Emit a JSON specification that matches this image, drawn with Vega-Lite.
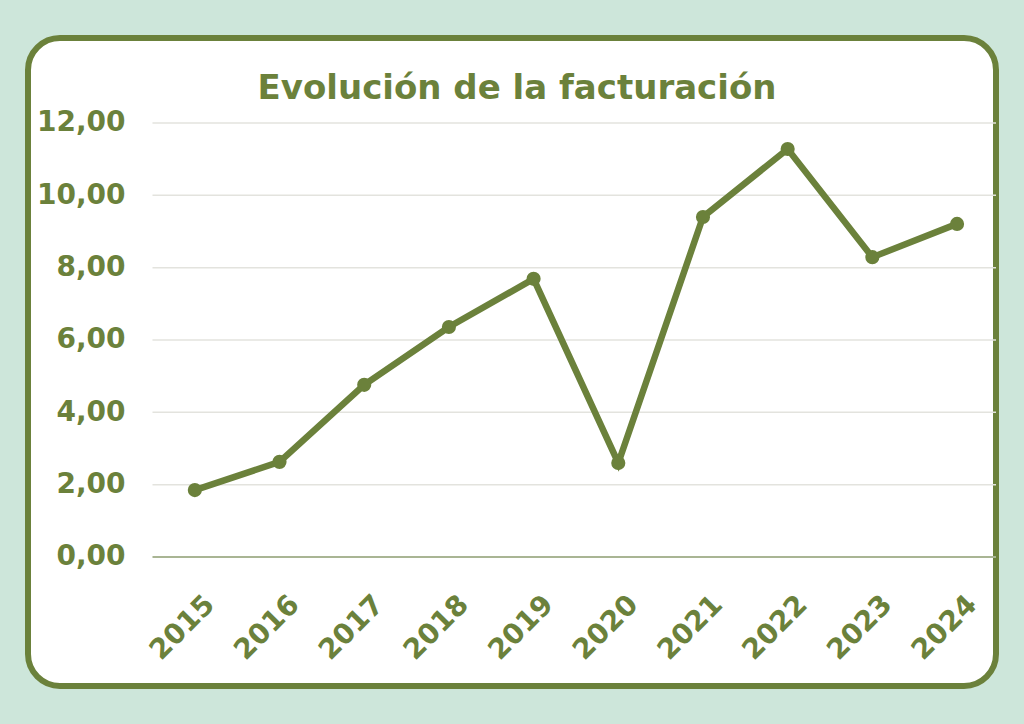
{
  "$schema": "https://vega.github.io/schema/vega-lite/v6.json",
  "width": 968,
  "height": 648,
  "autosize": "none",
  "padding": {"left": 28, "top": 38, "right": 28, "bottom": 38},
  "background": "#cde6da",
  "config": {
    "view": {"fill": "white", "stroke": "#6b813b", "strokeWidth": 6, "cornerRadius": 32},
    "locale": {"number": {"decimal": ",", "thousands": ".", "grouping": [3], "currency": ["", " €"]}},
    "font": "DejaVu Sans"
  },
  "title": {
    "text": "Evolución de la facturación",
    "anchor": "middle",
    "frame": "group",
    "font": "DejaVu Sans",
    "fontSize": 34,
    "fontWeight": "bold",
    "color": "#6b813b",
    "baseline": "middle",
    "offset": 0,
    "dy": 85,
    "dx": 5
  },
  "datasets": {
    "sales": [
      {"year": 2015, "value": 1.85},
      {"year": 2016, "value": 2.63},
      {"year": 2017, "value": 4.76},
      {"year": 2018, "value": 6.36},
      {"year": 2019, "value": 7.69},
      {"year": 2020, "value": 2.6},
      {"year": 2021, "value": 9.4},
      {"year": 2022, "value": 11.28},
      {"year": 2023, "value": 8.29},
      {"year": 2024, "value": 9.21}
    ],
    "grid": [{"v": 2}, {"v": 4}, {"v": 6}, {"v": 8}, {"v": 10}, {"v": 12}],
    "base": [{"v": 0}]
  },
  "layer": [
    {
      "data": {"name": "grid"},
      "mark": {"type": "rule", "color": "#e3e3de", "strokeWidth": 1.5},
      "encoding": {
        "y": {"field": "v", "type": "quantitative", "scale": {"domain": [-3.567, 14.35], "nice": false, "zero": false}, "title": null},
        "x": {"datum": 2014.5, "type": "quantitative", "scale": {"domain": [2013.03, 2024.46], "nice": false, "zero": false}, "title": null},
        "x2": {"datum": 2024.46}
      }
    },
    {
      "data": {"name": "base"},
      "mark": {"type": "rule", "color": "#a9b594", "strokeWidth": 2},
      "encoding": {
        "y": {"field": "v", "type": "quantitative", "title": null},
        "x": {"datum": 2014.5, "type": "quantitative", "title": null},
        "x2": {"datum": 2024.46}
      }
    },
    {
      "data": {"name": "sales"},
      "mark": {"type": "line", "color": "#6b813b", "strokeWidth": 6.5, "point": {"filled": true, "size": 200, "color": "#6b813b", "opacity": 1}},
      "encoding": {
        "x": {
          "field": "year", "type": "quantitative", "title": null,
          "axis": {
            "values": [2015, 2016, 2017, 2018, 2019, 2020, 2021, 2022, 2023, 2024],
            "format": "d", "labelAngle": -45, "labelAlign": "right", "labelBaseline": "middle",
            "labelOffset": 15, "offset": -90, "labelPadding": 4,
            "ticks": false, "domain": false, "grid": false,
            "labelFont": "DejaVu Sans", "labelFontSize": 28, "labelFontWeight": "bold", "labelColor": "#6b813b",
            "labelOverlap": false, "labelFlush": false
          }
        },
        "y": {
          "field": "value", "type": "quantitative", "title": null,
          "axis": {
            "values": [0, 2, 4, 6, 8, 10, 12],
            "format": ".2f", "offset": -97, "labelPadding": 0,
            "ticks": false, "domain": false, "grid": false,
            "labelFont": "DejaVu Sans", "labelFontSize": 28, "labelFontWeight": "bold", "labelColor": "#6b813b",
            "labelOverlap": false, "labelFlush": false
          }
        }
      }
    }
  ]
}
